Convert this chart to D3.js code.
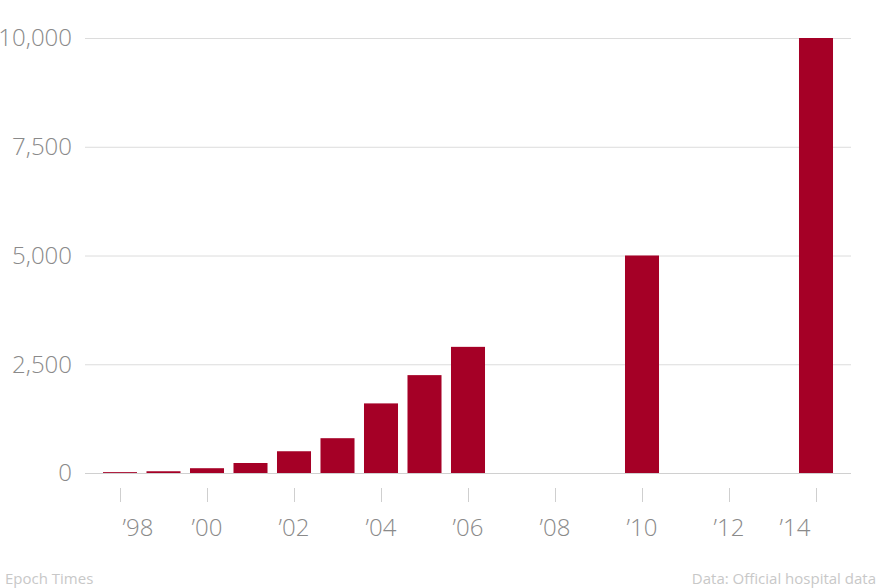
<!DOCTYPE html>
<html><head><meta charset="utf-8">
<script src="https://cdn.jsdelivr.net/npm/d3@7"></script>
<style>
body{margin:0;background:#fff;}
svg text{font-family:"Open Sans",sans-serif;}
</style></head>
<body>
<svg id="c" width="881" height="588"></svg>
<script>
const years = [1998,1999,2000,2001,2002,2003,2004,2005,2006,2007,2008,2009,2010,2011,2012,2013,2014];
const values = [20,40,110,230,500,800,1600,2250,2900,null,null,null,5000,null,null,null,10000];
const yTicks = [0,2500,5000,7500,10000];
const xTickYears = [1998,2000,2002,2004,2006,2008,2010,2012,2014];
const xTickLabels = ["’98","’00","’02","’04","’06","’08","’10","’12","’14"];
const xLabelShift = [18,0,0,0,0,0,0,0,-21];

const svg = d3.select("#c");
const x = d3.scaleBand().domain(years).range([98.25, 837.75]).paddingInner(0.218).paddingOuter(0.109);
const y = d3.scaleLinear().domain([0,10000]).range([473,38]);

// grid
svg.append("g").selectAll("line").data(yTicks).join("line")
  .attr("x1",85).attr("x2",851)
  .attr("y1",d=>y(d)+0.5).attr("y2",d=>y(d)+0.5)
  .attr("stroke",d=>d===0?"#d0d0d0":"#dcdcdc").attr("stroke-width",1);

svg.append("g").selectAll("text").data(yTicks).join("text")
  .attr("x",72).attr("y",d=>y(d)).attr("dy","0.35em")
  .attr("text-anchor","end").attr("fill","#8a8a8a")
  .attr("font-size",24).attr("font-weight",300)
  .text(d=>d3.format(",")(d));

// bars
const data = years.map((yr,i)=>({yr,v:values[i]})).filter(d=>d.v!=null);
svg.append("g").selectAll("rect").data(data).join("rect")
  .attr("x",d=>x(d.yr)).attr("width",x.bandwidth())
  .attr("y",d=>y(d.v)).attr("height",d=>y(0)-y(d.v))
  .attr("fill","#a50026");

// x ticks
const cx = d=>x(d)+x.bandwidth()/2;
svg.append("g").selectAll("line").data(xTickYears).join("line")
  .attr("x1",d=>Math.round(cx(d))+0.5).attr("x2",d=>Math.round(cx(d))+0.5)
  .attr("y1",488).attr("y2",502).attr("stroke","#cfcfcf").attr("stroke-width",1);

svg.append("g").selectAll("text").data(xTickYears).join("text")
  .attr("x",(d,i)=>cx(d)+xLabelShift[i]).attr("y",536)
  .attr("text-anchor","middle").attr("fill","#8a8a8a")
  .attr("font-size",24).attr("font-weight",300)
  .text((d,i)=>xTickLabels[i]);

// footer
svg.append("text").attr("x",5).attr("y",584).attr("fill","#c8c8c8").attr("font-size",15).text("Epoch Times");
svg.append("text").attr("x",876).attr("y",584).attr("text-anchor","end").attr("fill","#c8c8c8").attr("font-size",15).text("Data: Official hospital data");
</script>
</body></html>
